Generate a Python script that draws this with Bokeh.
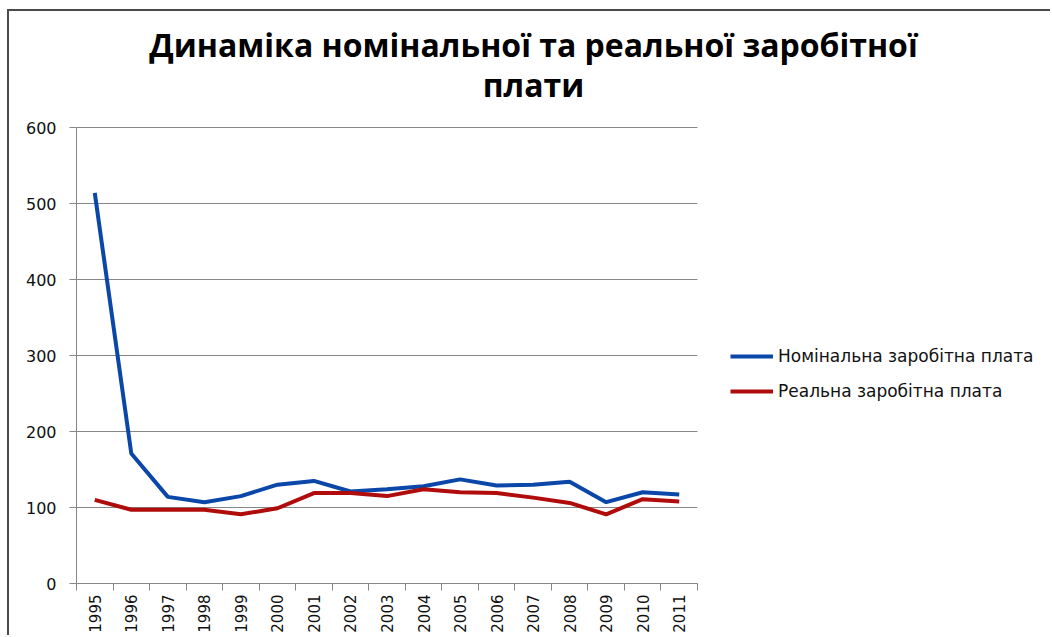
import math
from bokeh.plotting import figure
from bokeh.models import Range1d, FixedTicker, Legend, LegendItem, Label
from bokeh.embed import file_html
from bokeh.resources import INLINE

years = [1995, 1996, 1997, 1998, 1999, 2000, 2001, 2002, 2003, 2004, 2005, 2006, 2007, 2008, 2009, 2010, 2011]
nominal = [514, 171, 114, 107, 115, 130, 135, 121, 124, 128, 137, 129, 130, 134, 107, 120, 117]
real = [110, 97, 97, 97, 91, 99, 119, 119, 115, 124, 120, 119, 113, 106, 91, 111, 108]
y_ticks = [0, 100, 200, 300, 400, 500, 600]
title_lines = ["Динаміка номінальної та реальної заробітної", "плати"]
series_names = ["Номінальна заробітна плата", "Реальна заробітна плата"]

# layout (page pixels; the page body has no margin)
ORG_X, ORG_Y = 9, 11          # canvas origin (after a 2px left/top border)
W, H = 1052 - ORG_X, 637 - ORG_Y
FRAME_L, FRAME_R, FRAME_T, FRAME_B = 76, 1048, 13, 583
AX_T, AX_R = 127, 697         # page y of value 600, page x of right end of the axis

y_px = (FRAME_B - AX_T) / 600.0
x_px = (AX_R - FRAME_L) / len(years)
x0 = years[0] - 0.5
x_end = years[-1] + 0.5
x1 = x0 + (FRAME_R - FRAME_L) / x_px
y1 = (FRAME_B - FRAME_T) / y_px

p = figure(width=W, height=H, output_backend="svg", toolbar_location=None,
           x_range=Range1d(x0, x1), y_range=Range1d(0, y1),
           min_border_left=FRAME_L - ORG_X, min_border_right=(ORG_X + W) - FRAME_R,
           min_border_top=FRAME_T - ORG_Y, min_border_bottom=(ORG_Y + H) - FRAME_B)
p.styles = {"margin-left": "7px", "margin-top": "9px",
            "border-left": "2px solid #4a4a4a", "border-top": "2px solid #4a4a4a"}
p.outline_line_color = None
p.background_fill_color = "white"
p.border_fill_color = "white"

# horizontal grid lines limited to the axis extent
p.xgrid.grid_line_color = None
p.ygrid.grid_line_color = None
grid_vals = [v for v in y_ticks if v > 0]
p.segment(x0=[x0] * len(grid_vals), x1=[x_end] * len(grid_vals), y0=grid_vals, y1=grid_vals,
          line_color="#868686", line_width=1)

# y axis
p.yaxis.ticker = FixedTicker(ticks=y_ticks)
p.yaxis.bounds = (0, 600)
p.yaxis.axis_line_color = "#868686"
p.yaxis.major_tick_line_color = "#868686"
p.yaxis.major_tick_out = 7
p.yaxis.major_tick_in = 0
p.yaxis.minor_tick_line_color = None
p.yaxis.major_label_text_font = "DejaVu Sans"
p.yaxis.major_label_text_font_size = "16px"
p.yaxis.major_label_text_color = "#111111"
p.yaxis.major_label_standoff = 13

# x axis: labels at centres, tick marks at the category boundaries
bounds = [y - 0.5 for y in years] + [x_end]
p.xaxis.ticker = FixedTicker(ticks=years, minor_ticks=bounds)
p.xaxis.bounds = (x0, x_end)
p.xaxis.axis_line_color = "#868686"
p.xaxis.major_tick_line_color = None
p.xaxis.minor_tick_line_color = "#868686"
p.xaxis.minor_tick_out = 7
p.xaxis.minor_tick_in = 0
p.xaxis.major_label_orientation = math.pi / 2
p.xaxis.major_label_text_font = "DejaVu Sans"
p.xaxis.major_label_text_font_size = "15px"
p.xaxis.major_label_text_color = "#111111"
p.xaxis.major_label_standoff = 4

r1 = p.line(years, nominal, line_color="#0a47a8", line_width=4)
r2 = p.line(years, real, line_color="#b00c0c", line_width=4)

# legend: rows centred at page y 356 and 391, glyph starting at page x 730
ROW_H, ROW_GAP = 20, 15
leg_bottom = 391 + ROW_H / 2
legend = Legend(items=[LegendItem(label=series_names[0], renderers=[r1]),
                       LegendItem(label=series_names[1], renderers=[r2])],
                location=(730 - FRAME_L, FRAME_B - leg_bottom), padding=0, margin=0,
                spacing=ROW_GAP, glyph_width=43, glyph_height=ROW_H, label_height=ROW_H,
                label_standoff=5, label_text_font="DejaVu Sans", label_text_font_size="17px",
                label_text_color="#111111", border_line_color=None,
                background_fill_alpha=0)
p.add_layout(legend, "center")

# title lines centred at page x=533
cx = x0 + (533 - FRAME_L) / x_px
for i, t in enumerate(title_lines):
    cy = (FRAME_B - (44 + 40 * i)) / y_px
    p.add_layout(Label(x=cx, y=cy, text=t, text_align="center", text_baseline="middle",
                       text_font="Open Sans", text_font_size="32px", text_font_style="bold",
                       text_color="#000000"))

open("out.html", "w").write(file_html(p, INLINE))
